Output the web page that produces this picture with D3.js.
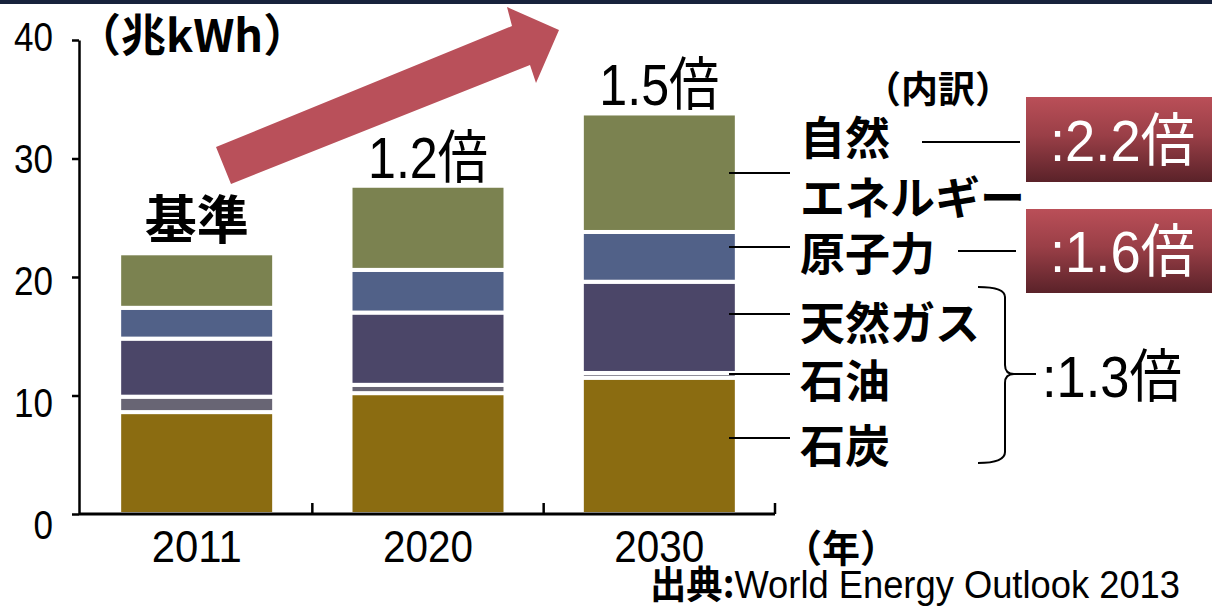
<!DOCTYPE html>
<html>
<head>
<meta charset="utf-8">
<script src="https://cdn.jsdelivr.net/npm/d3@7"></script>
<style>
  body { margin: 0; background: #fff; }
  svg { display: block; }
  .num { font-family: "Liberation Sans Narrow", "Liberation Sans", "Noto Sans CJK JP", sans-serif; }
  .jp { font-family: "Noto Sans CJK JP", sans-serif; font-weight: bold; }
</style>
</head>
<body>
<script>
// values (兆kWh)
var years = ["2011", "2020", "2030"];
var coal = [8.6, 10.2, 11.5];
var oil = [1.3, 0.7, 0.4];
var gas = [4.9, 6.1, 7.7];
var nuclear = [2.6, 3.6, 4.2];
var renewable = [4.6, 7.1, 10.0];
var seriesKeys = ["coal", "oil", "gas", "nuclear", "renewable"];
var seriesLabels = ["石炭", "石油", "天然ガス", "原子力", "自然エネルギー"];
var yTicks = [0, 10, 20, 30, 40];
var topLabels = ["基準", "1.2倍", "1.5倍"];

var colors = ["#8b6c11", "#686574", "#4b4668", "#516188", "#7b8250"];

var width = 1212, height = 608;
var svg = d3.select("body").append("svg")
    .attr("width", width)
    .attr("height", height);

// dark strip at very top
svg.append("rect").attr("x", 0).attr("y", 0).attr("width", width).attr("height", 4).attr("fill", "#17223c");

var rows = years.map(function(yr, i) {
    return { year: yr, coal: coal[i], oil: oil[i], gas: gas[i], nuclear: nuclear[i], renewable: renewable[i] };
});
var stacked = d3.stack().keys(seriesKeys)(rows);

var y = d3.scaleLinear().domain([0, 40]).range([514, 40]);
var x = d3.scaleBand().domain(years).range([81, 775]).paddingInner(0.33).paddingOuter(0.165);

// gradient for the ratio boxes
var grad = svg.append("defs").append("linearGradient")
    .attr("id", "boxGrad").attr("x1", 0).attr("y1", 0).attr("x2", 0).attr("y2", 1);
grad.append("stop").attr("offset", "0%").attr("stop-color", "#ba4f58");
grad.append("stop").attr("offset", "45%").attr("stop-color", "#9a3f47");
grad.append("stop").attr("offset", "100%").attr("stop-color", "#5a2229");

// big arrow
svg.append("polygon")
    .attr("points", "216,147 512,26 507,7 559,30 536,83 530,65 231,184")
    .attr("fill", "#b9505a");

// bars
svg.append("g").selectAll("g")
    .data(stacked).enter()
    .append("g")
    .attr("fill", function(d, i) { return colors[i]; })
    .selectAll("rect")
    .data(function(d) { return d; }).enter()
    .append("rect")
    .attr("x", function(d) { return x(d.data.year); })
    .attr("width", x.bandwidth())
    .attr("y", function(d) { return y(d[1]); })
    .attr("height", function(d) { return y(d[0]) - y(d[1]); })
    .attr("stroke", "#fff")
    .attr("stroke-width", 4);

// y axis
var yAxis = svg.append("g")
    .attr("transform", "translate(79,0)")
    .call(d3.axisLeft(y).tickValues(yTicks).tickSize(7).tickSizeOuter(0).tickPadding(19));
yAxis.select(".domain").attr("stroke", "#000").attr("stroke-width", 2.5);
yAxis.selectAll(".tick line").attr("stroke", "#000").attr("stroke-width", 2.5);
yAxis.selectAll(".tick text")
    .attr("class", "num")
    .attr("font-size", 40)
    .attr("fill", "#000")
    .attr("textLength", function(d) { return String(d).length * 19.5; })
    .attr("lengthAdjust", "spacingAndGlyphs")
    .attr("dy", function(d) { return (0.34 * 40 + (30 - d) * 0.36) + "px"; });

// x axis
var xAxis = svg.append("g")
    .attr("transform", "translate(0,514)")
    .call(d3.axisBottom(x).tickSize(0).tickPadding(17));
xAxis.select(".domain").attr("d", "M79,0H775").attr("stroke", "#000").attr("stroke-width", 3);
xAxis.selectAll(".tick text")
    .attr("class", "num")
    .attr("font-size", 44)
    .attr("fill", "#000")
    .attr("textLength", 90)
    .attr("lengthAdjust", "spacingAndGlyphs");
[1, 2, 3].forEach(function(i) {
    var bx = x.range()[0] + i * x.step();
    xAxis.append("line").attr("x1", bx).attr("x2", bx).attr("y1", 0).attr("y2", -11)
        .attr("stroke", "#000").attr("stroke-width", 2.5);
});

// labels above bars
var totals = stacked[stacked.length - 1];
svg.append("g").selectAll("text")
    .data(totals).enter()
    .append("text")
    .attr("class", function(d, i) { return i === 0 ? "jp" : "num"; })
    .attr("x", function(d) { return x(d.data.year) + x.bandwidth() / 2; })
    .attr("y", function(d, i) { return y(d[1]) - (i === 0 ? 14 : 8); })
    .attr("text-anchor", "middle")
    .attr("font-size", function(d, i) { return i === 0 ? 52 : 58; })
    .attr("textLength", function(d, i) { return i === 0 ? null : 120; })
    .attr("lengthAdjust", "spacingAndGlyphs")
    .attr("fill", "#000")
    .text(function(d, i) { return topLabels[i]; });

// unit labels
svg.append("text").attr("class", "jp").attr("x", 76).attr("y", 52)
    .attr("font-size", 45).text("（兆kWh）");
svg.append("text").attr("class", "jp").attr("x", 784).attr("y", 562)
    .attr("font-size", 38).text("（年）");
svg.append("text").attr("class", "jp").attr("x", 864).attr("y", 103)
    .attr("font-size", 37).text("（内訳）");

// source
var src = svg.append("text").attr("x", 650).attr("y", 598).attr("font-size", 38)
    .attr("textLength", 530).attr("lengthAdjust", "spacingAndGlyphs");
src.append("tspan").attr("class", "jp").text("出典:");
src.append("tspan").attr("class", "num").text("World Energy Outlook 2013");

// series labels with leader lines (layout positions)
var labelLayout = [
    { lines: ["石炭"], ty: [443], ly: 438 },
    { lines: ["石油"], ty: [378], ly: 374 },
    { lines: ["天然ガス"], ty: [320], ly: 314 },
    { lines: ["原子力"], ty: [251], ly: 247 },
    { lines: ["自然", "エネルギー"], ty: [135, 195], ly: 173 }
];
var lab = svg.append("g");
labelLayout.forEach(function(l, i) {
    lab.append("line").attr("x1", 729).attr("x2", 790).attr("y1", l.ly).attr("y2", l.ly)
        .attr("stroke", "#000").attr("stroke-width", 2);
    var parts = l.lines.length > 1 ? [seriesLabels[i].slice(0, 2), seriesLabels[i].slice(2)] : [seriesLabels[i]];
    parts.forEach(function(t, j) {
        lab.append("text").attr("class", "jp").attr("x", 800).attr("y", l.ty[j])
            .attr("dominant-baseline", "central").attr("font-size", 45).attr("fill", "#000").text(t);
    });
});

// connectors to ratio boxes
lab.append("line").attr("x1", 922).attr("x2", 1020).attr("y1", 142).attr("y2", 142)
    .attr("stroke", "#000").attr("stroke-width", 2);
lab.append("line").attr("x1", 958).attr("x2", 1016).attr("y1", 251).attr("y2", 251)
    .attr("stroke", "#000").attr("stroke-width", 2);

// ratio boxes
[{ y0: 97, y1: 182, t: ":2.2倍" }, { y0: 209, y1: 293, t: ":1.6倍" }].forEach(function(b) {
    svg.append("rect").attr("x", 1026).attr("y", b.y0).attr("width", 186).attr("height", b.y1 - b.y0)
        .attr("fill", "url(#boxGrad)");
    svg.append("text").attr("class", "num").attr("x", 1050).attr("y", (b.y0 + b.y1) / 2 + 21)
        .attr("font-size", 58).attr("fill", "#fff")
        .attr("textLength", 145).attr("lengthAdjust", "spacingAndGlyphs")
        .text(b.t);
});

// brace for fossil fuels
svg.append("path")
    .attr("d", "M978,287 Q1005,287 1005,297 L1005,365 Q1005,374 1014,374 L1036,374 M1014,374 Q1005,374 1005,383 L1005,452 Q1005,463 978,463")
    .attr("fill", "none").attr("stroke", "#000").attr("stroke-width", 2);
svg.append("text").attr("class", "num").attr("x", 1042).attr("y", 397)
    .attr("font-size", 58).attr("fill", "#000")
    .attr("textLength", 140).attr("lengthAdjust", "spacingAndGlyphs")
    .text(":1.3倍");
</script>
</body>
</html>
